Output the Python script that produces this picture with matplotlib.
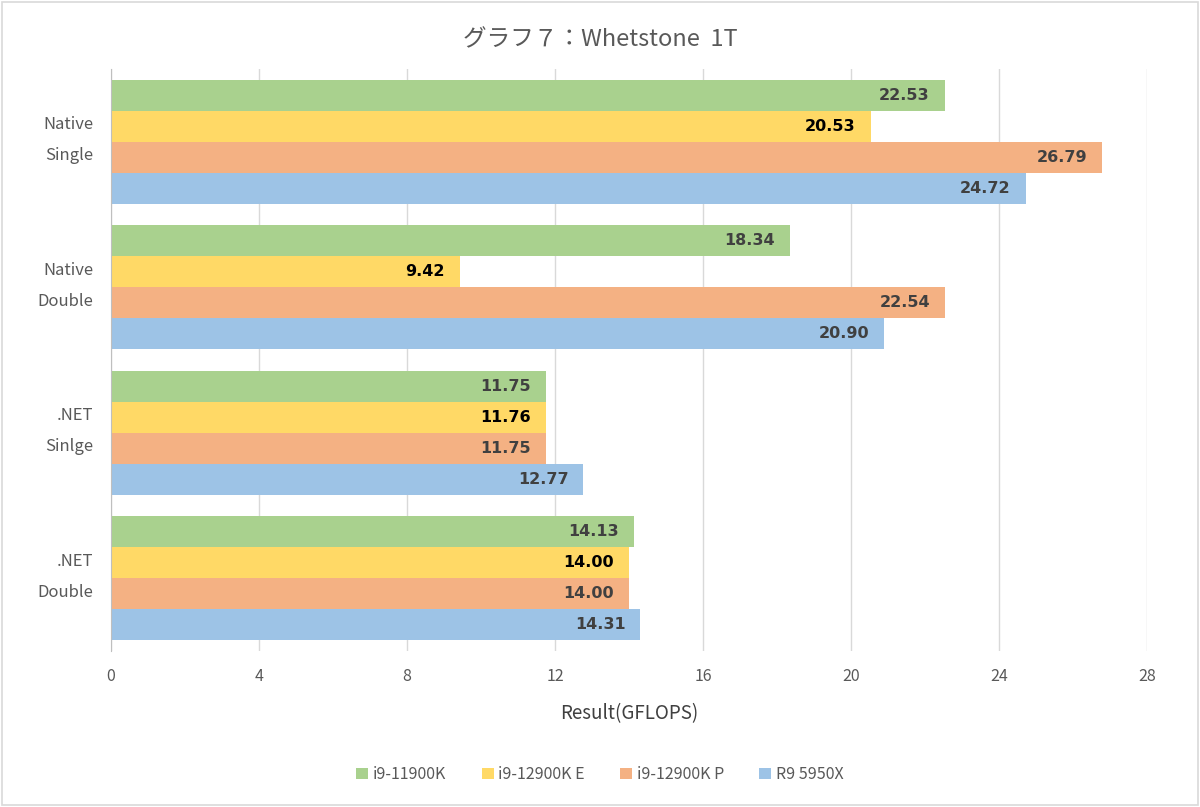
import numpy as np
import matplotlib.pyplot as plt
from matplotlib.patches import Rectangle

plt.rcParams['font.family'] = ['Noto Sans CJK JP', 'DejaVu Sans']

# Data
categories = ["Native\nSingle", "Native\nDouble", ".NET\nSinlge", ".NET\nDouble"]
series = ["i9-11900K", "i9-12900K E", "i9-12900K P", "R9 5950X"]
values = {
    "i9-11900K":   [22.53, 18.34, 11.75, 14.13],
    "i9-12900K E": [20.53, 9.42, 11.76, 14.00],
    "i9-12900K P": [26.79, 22.54, 11.75, 14.00],
    "R9 5950X":    [24.72, 20.90, 12.77, 14.31],
}
colors = ["#A9D18E", "#FFD966", "#F4B183", "#9DC3E6"]
label_colors = ["#404040", "#000000", "#404040", "#404040"]

fig = plt.figure(figsize=(12, 8.07), dpi=100)
ax = fig.add_axes([0.0925, 0.1933, 0.8633, 0.7212])

n = len(series)
bh = 0.213
y = np.arange(len(categories))
for i, s in enumerate(series):
    pos = y + (i - (n - 1) / 2) * bh
    bars = ax.barh(pos, values[s], height=bh, color=colors[i], label=s, zorder=2)
    for b, v in zip(bars, values[s]):
        ax.text(v - 0.4, b.get_y() + b.get_height() / 2, f"{v:.2f}",
                ha="right", va="center", fontsize=11.5, fontweight="bold",
                family="DejaVu Sans", color=label_colors[i], zorder=3)

ax.set_ylim(len(categories) - 0.5, -0.5)
ax.set_xlim(0, 28)
ax.set_xticks(np.arange(0, 29, 4))
ax.set_yticks(y)
ax.set_yticklabels([])
# category labels drawn as text so the two lines sit where Excel puts them
for yy, cat in zip(y, categories):
    ax.text(-0.017, yy - 0.01, cat, transform=ax.get_yaxis_transform(),
            ha="right", va="center", ma="right", fontsize=12, color="#595959",
            linespacing=2.1)
ax.tick_params(axis="x", labelsize=11.5, colors="#595959", length=0, pad=12)
ax.tick_params(axis="y", length=0)
ax.grid(axis="x", color="#D9D9D9", linewidth=1, zorder=0)
for sp in ["top", "right", "bottom"]:
    ax.spines[sp].set_visible(False)
ax.spines["left"].set_color("#BFBFBF")

ax.set_xlabel("Result(GFLOPS)", fontsize=13.5, color="#404040", labelpad=13)
fig.suptitle("グラフ７：Whetstone  1T", y=0.965, fontsize=17, color="#595959")

fig.legend(loc="lower center", bbox_to_anchor=(0.5, 0.012), ncol=4, frameon=False,
           fontsize=11.5, labelcolor="#595959", handlelength=0.75, handleheight=0.75,
           handletextpad=0.3, columnspacing=2.2)

fig.patches.append(Rectangle((0.002, 0.002), 0.996, 0.996, transform=fig.transFigure,
                             fill=False, edgecolor="#D9D9D9", linewidth=1.2))

fig.savefig("out.png", dpi=100)
